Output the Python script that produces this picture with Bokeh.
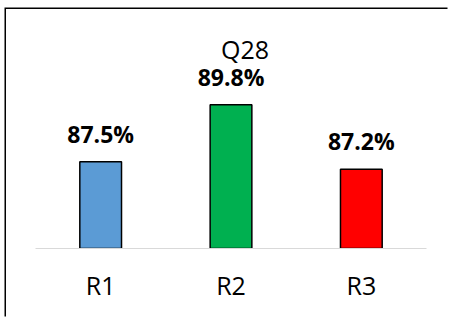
from bokeh.plotting import figure
from bokeh.models import ColumnDataSource, Label
from bokeh.core.properties import value
from bokeh.embed import file_html
from bokeh.resources import INLINE

categories = ["R1", "R2", "R3"]
scores = [87.5, 89.8, 87.2]
score_labels = ["87.5%", "89.8%", "87.2%"]
colors = ["#5b9bd5", "#00b050", "#ff0000"]
title_text = "Q28"
y_min = 84.0
y_max = 93.56

src = ColumnDataSource(dict(cat=categories, val=scores, lab=score_labels, col=colors))

p = figure(x_range=categories, y_range=(y_min, y_max), width=443, height=309,
           output_backend="svg", toolbar_location=None,
           min_border_left=29, min_border_right=23, min_border_top=2, min_border_bottom=70,
           styles={"box-shadow": "-1.5px -1.5px 0px 0px black",
                   "margin-left": "5.5px", "margin-top": "8.5px"})
p.outline_line_color = None
p.xgrid.visible = False
p.ygrid.visible = False
p.yaxis.visible = False
p.background_fill_color = "white"
p.border_fill_color = "white"

p.vbar(x="cat", top="val", bottom=y_min, width=0.32, fill_color="col",
       line_color="black", line_width=1.5, source=src)
p.text(x="cat", y="val", text="lab", source=src, text_align="center",
       text_baseline="alphabetic", y_offset=-28, text_font=value("Open Sans"),
       text_font_style="bold", text_font_size="23px", text_color="black")

p.add_layout(Label(x=1.5, y=92.06, text=title_text, text_align="center",
                   text_baseline="alphabetic", x_offset=14, text_font="Open Sans",
                   text_font_size="25px", text_color="black"))

ax = p.xaxis[0]
ax.axis_line_color = "#d9d9d9"
ax.axis_line_width = 1
ax.major_tick_line_color = None
ax.minor_tick_line_color = None
ax.major_label_text_font = "Open Sans"
ax.major_label_text_font_size = "25px"
ax.major_label_text_color = "black"
ax.major_label_standoff = 13

open("out.html", "w").write(file_html(p, INLINE))
